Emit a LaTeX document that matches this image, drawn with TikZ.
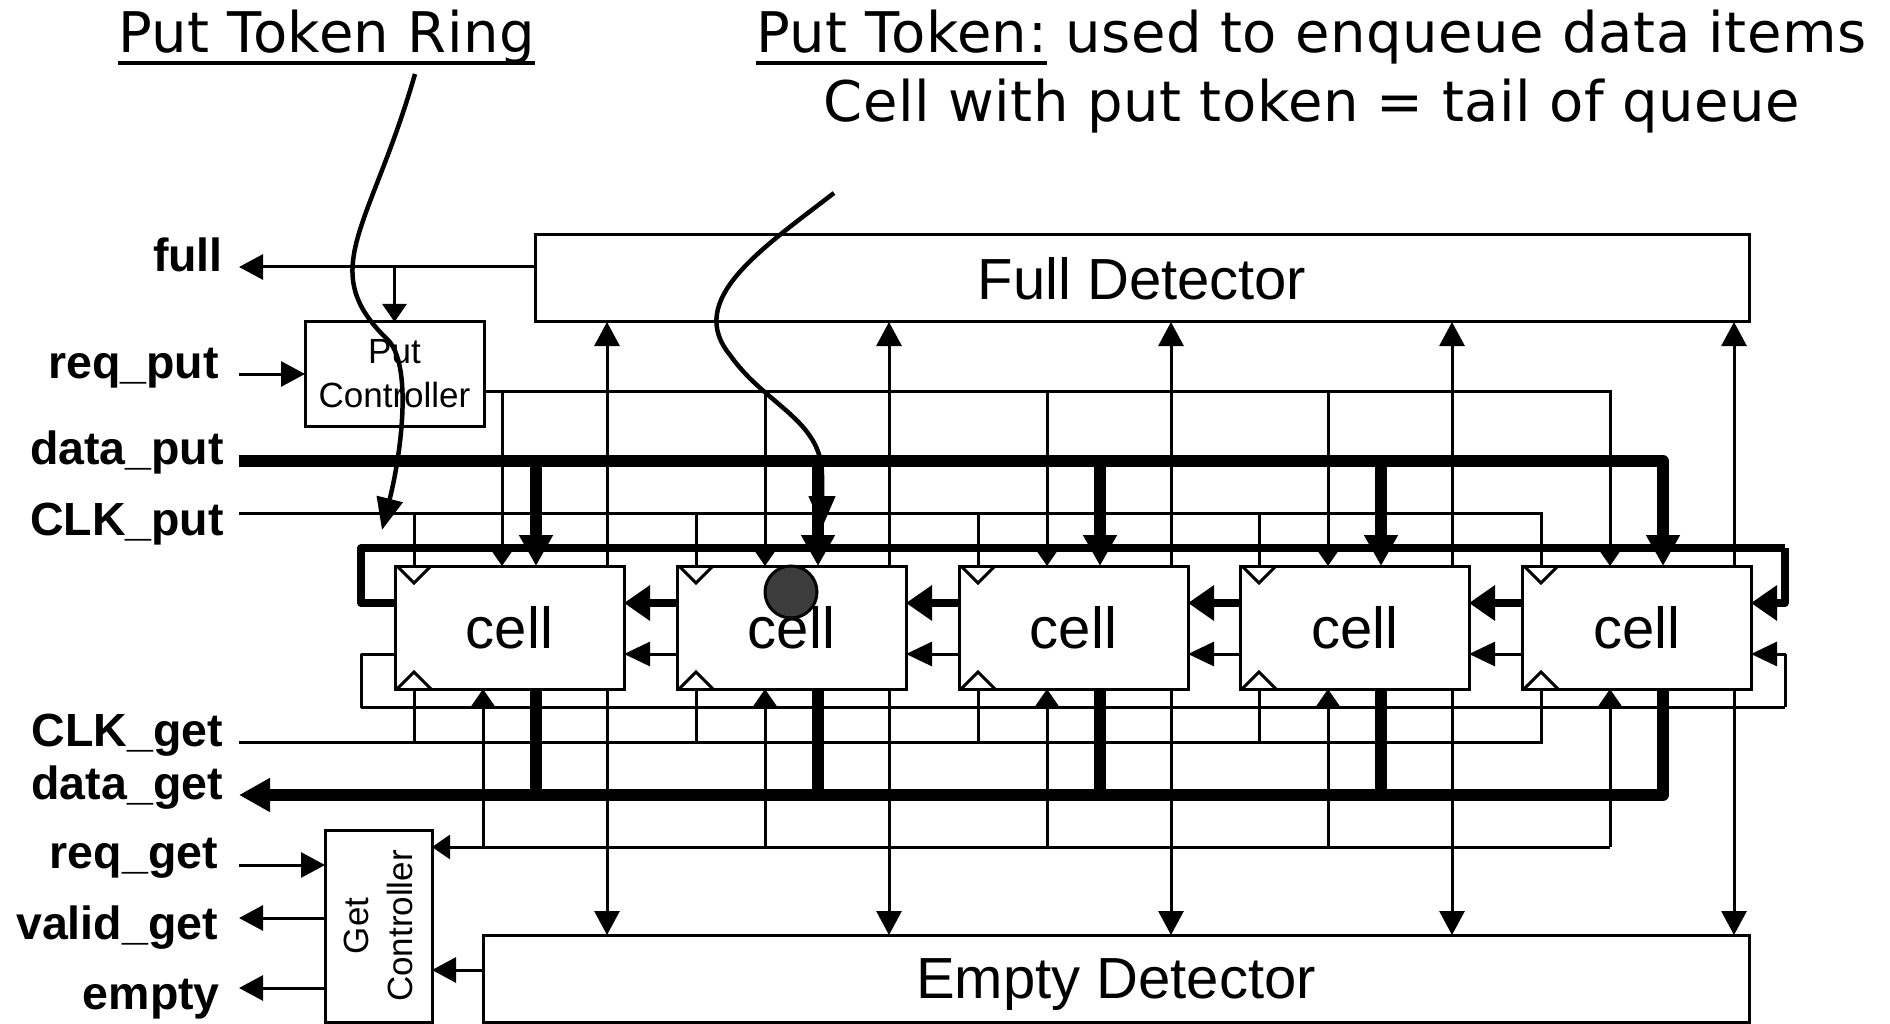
\documentclass[tikz,border=0pt]{standalone}
\usepackage{fontspec}
\setmainfont{Liberation Sans}
\newfontfamily\notefont[LetterSpace=1]{DejaVu Sans}
\usetikzlibrary{arrows.meta,calc}
\definecolor{tokgray}{HTML}{3C3C3C}

\begin{document}
\begin{tikzpicture}[x=1pt,y=-1pt,
  wire/.style={line width=3pt},
  busw/.style={line width=12pt, line join=round},
  ringw/.style={line width=8pt, line join=round},
  thintip/.style={-{Triangle[length=24pt,width=25pt]}},
  shorttip/.style={-{Triangle[length=18pt,width=24pt]}},
  bustip/.style={-{Triangle[length=31pt,width=32pt]}},
  ringtip/.style={-{Triangle[length=26pt,width=34pt]}},
  sidetip/.style={-{Triangle[length=26pt,width=24pt]}},
  curvetip/.style={-{Triangle[length=32pt,width=26pt]}},
  box/.style={draw, line width=3pt, inner sep=0pt, outer sep=0pt, fill=white},
  cellbox/.style={box, minimum width=229pt, minimum height=123pt,
    font=\fontsize{58}{58}\selectfont},
  detbox/.style={box, minimum height=87pt, text depth=0pt,
    font=\fontsize{58}{58}\selectfont},
  ctlfont/.style={inner sep=0pt, align=center, font=\fontsize{35}{44}\selectfont},
  lab/.style={anchor=base east, inner sep=0pt,
    font=\fontsize{46.5}{47}\selectfont\bfseries},
  note/.style={inner sep=0pt, font=\notefont\fontsize{56}{70}\selectfont},
  uline/.style={line width=4pt},
  curve/.style={line width=4.5pt},
]
\useasboundingbox (0,0) rectangle (1890,1024);

% ---------------- blocks ----------------
\node[detbox, minimum width=1214pt] (fd) at (1142,278.5) {Full Detector};
\node[detbox, minimum width=1266pt] (ed) at (1116,978.5) {Empty Detector};
\node[box, minimum width=179pt, minimum height=104pt] (pc) at (394.5,374) {};
\node[ctlfont] (pctext) at (pc.center) {Put\\Controller};
\node[box, minimum width=107pt, minimum height=192pt] (gc) at (378.5,926) {};
\node[ctlfont, rotate=90] (gctext) at (gc.center) {Get\\Controller};

% FIFO cells and their port columns
\foreach \i/\L/\p in {1/395/107, 2/677/88, 3/959/88, 4/1240/88, 5/1522/88} {
  \node[cellbox] (c\i) at (\L+114.5,627.5) {cell};
  \coordinate (c\i-ck)  at ([xshift=19pt]c\i.north west);
  \coordinate (c\i-pr)  at ([xshift=\p pt]c\i.north west);
  \coordinate (c\i-dp)  at ([xshift=141pt]c\i.north west);
  \coordinate (c\i-fu)  at ([xshift=212pt]c\i.north west);
  \coordinate (c\i-ckb) at ([xshift=19pt]c\i.south west);
  \coordinate (c\i-gr)  at ([xshift=88pt]c\i.south west);
  \coordinate (c\i-dg)  at ([xshift=141pt]c\i.south west);
  \coordinate (c\i-em)  at ([xshift=212pt]c\i.south west);
  \coordinate (c\i-tw)  at ([yshift=24.5pt]c\i.west);
  \coordinate (c\i-te)  at ([yshift=24.5pt]c\i.east);
  \coordinate (c\i-gw)  at ([yshift=-26.5pt]c\i.west);
  \coordinate (c\i-ge)  at ([yshift=-26.5pt]c\i.east);
  % clock marks
  \draw[wire] ([xshift=2pt]c\i.north west) -- ([xshift=19pt,yshift=-17pt]c\i.north west)
              -- ([xshift=36pt]c\i.north west);
  \draw[wire] ([xshift=2pt]c\i.south west) -- ([xshift=19pt,yshift=17pt]c\i.south west)
              -- ([xshift=36pt]c\i.south west);
}

% ---------------- port labels ----------------
\node[lab] (lfull)  at (223,272)  {full};
\node[lab] (lreqp)  at (219,378)  {req\_put};
\node[lab] (ldatp)  at (224,464)  {data\_put};
\node[lab] (lclkp)  at (224,535)  {CLK\_put};
\node[lab] (lclkg)  at (223,746)  {CLK\_get};
\node[lab] (ldatg)  at (223,799)  {data\_get};
\node[lab] (lreqg)  at (218,868)  {req\_get};
\node[lab] (lvalg)  at (218,939)  {valid\_get};
\node[lab] (lempty) at (220,1009) {empty};

\coordinate (fullout) at (239,267);
\coordinate (reqpin)  at (239,374);
\coordinate (dpin)    at (239,461);
\coordinate (ckpin)   at (239,513);
\coordinate (ringNW)  at (361,548);
\coordinate (ringNE)  at (1785,548);
\coordinate (ringSW)  at (361,707);
\coordinate (ringSE)  at (1785,707);
\coordinate (ckgin)   at (239,742);
\coordinate (dgout)   at (239,795);
\coordinate (grline)  at (484,847);
\coordinate (reqgin)  at (239,865);
\coordinate (validout) at (239,918);
\coordinate (emptyout) at (239,988);

% ---------------- put side ----------------
\draw[wire, thintip] ([yshift=11.5pt]fd.west) -- (fullout);
\draw[wire, shorttip] (pc.north |- fullout) -- (pc.north);
\draw[wire, thintip] (reqpin) -- (pc.west);

% put controller enables
\coordinate (pcout) at ([yshift=-17pt]pc.east);
\draw[wire, shorttip] (pcout) -| (c5-pr);
\foreach \i in {1,...,4} \draw[wire, shorttip] (c\i-pr |- pcout) -- (c\i-pr);

% put clock
\draw[wire] (ckpin) -| (c5-ck);
\foreach \i in {1,...,4} \draw[wire] (c\i-ck |- ckpin) -- (c\i-ck);

% full detector inputs
\foreach \i in {1,...,5} \draw[wire, thintip] (c\i-fu) -- (c\i-fu |- fd.south);

% ---------------- get side ----------------
\draw[wire] (ckgin) -| (c5-ckb);
\foreach \i in {1,...,4} \draw[wire] (c\i-ckb |- ckgin) -- (c\i-ckb);

\draw[wire, shorttip] (c5-gr |- grline) -- ([yshift=79pt]gc.east);
\foreach \i in {1,...,5} \draw[wire, shorttip] (c\i-gr |- grline) -- (c\i-gr);

\foreach \i in {1,...,5} \draw[wire, thintip] (c\i-em) -- (c\i-em |- ed.north);

\draw[wire, thintip] ([yshift=8.5pt]ed.west) -- ([yshift=-44pt]gc.east);
\draw[wire, thintip] (reqgin) -- ([yshift=61pt]gc.west);
\draw[wire, thintip] ([yshift=8pt]gc.west) -- (validout);
\draw[wire, thintip] ([yshift=-62pt]gc.west) -- (emptyout);

% ---------------- get token ring (thin) ----------------
\draw[wire, line join=round] (c1-gw) -| (ringSW) -- (ringSE);
\draw[wire, sidetip, line join=round] (ringSE) |- (c5-ge);
\foreach \i/\j in {1/2,2/3,3/4,4/5} \draw[wire, sidetip] (c\j-gw) -- (c\i-ge);

% ---------------- data buses ----------------
\draw[busw, bustip] (dpin) -| (c5-dp);
\foreach \i in {1,...,4} \draw[busw, bustip] (c\i-dp |- dpin) -- (c\i-dp);
\draw[busw, bustip] (c5-dg) |- (dgout);
\foreach \i in {1,...,4} \draw[busw] (c\i-dg) -- (c\i-dg |- dgout);

% ---------------- put token ring (thick) ----------------
\draw[ringw] (c1-tw) -| (ringNW) -- (ringNE);
\draw[ringw, ringtip] (ringNE) |- (c5-te);
\foreach \i/\j in {1/2,2/3,3/4,4/5} \draw[ringw, ringtip] (c\j-tw) -- (c\i-te);

% ---------------- notes ----------------
\node[note, anchor=base west] (ttl1) at (118,53) {Put Token Ring};
\draw[uline] ([yshift=-10pt]ttl1.base west) -- ([yshift=-10pt]ttl1.base east);
\node[note, anchor=base west] (tokA) at (756,53) {Put Token:};
\draw[uline] ([yshift=-10pt]tokA.base west) -- ([yshift=-10pt]tokA.base east);
\node[note, anchor=base west] (tokB) at (tokA.base east) {\ used to enqueue data items};
\node[note, anchor=base] (tokC) at (1312,122) {Cell with put token = tail of queue};

% token marker
\node[circle, draw, line width=3pt, fill=tokgray, minimum size=52pt, inner sep=0pt]
  (tok) at (791,592) {};

% pointers
\coordinate (ringptr0) at (415,74);
\coordinate (ringptr1) at (382,530);
\draw[curve, curvetip] (ringptr0) .. controls (370,230) and (315,270) .. (388,340)
  .. controls (412,365) and (402,450) .. (ringptr1);
\coordinate (tokptr0) at (834,193);
\coordinate (tokptr1) at (822,528);
\draw[curve, curvetip] (tokptr0) .. controls (760,250) and (685,300) .. (730,355)
  .. controls (765,405) and (822,420) .. (822,475) -- (tokptr1);
\end{tikzpicture}
\end{document}
